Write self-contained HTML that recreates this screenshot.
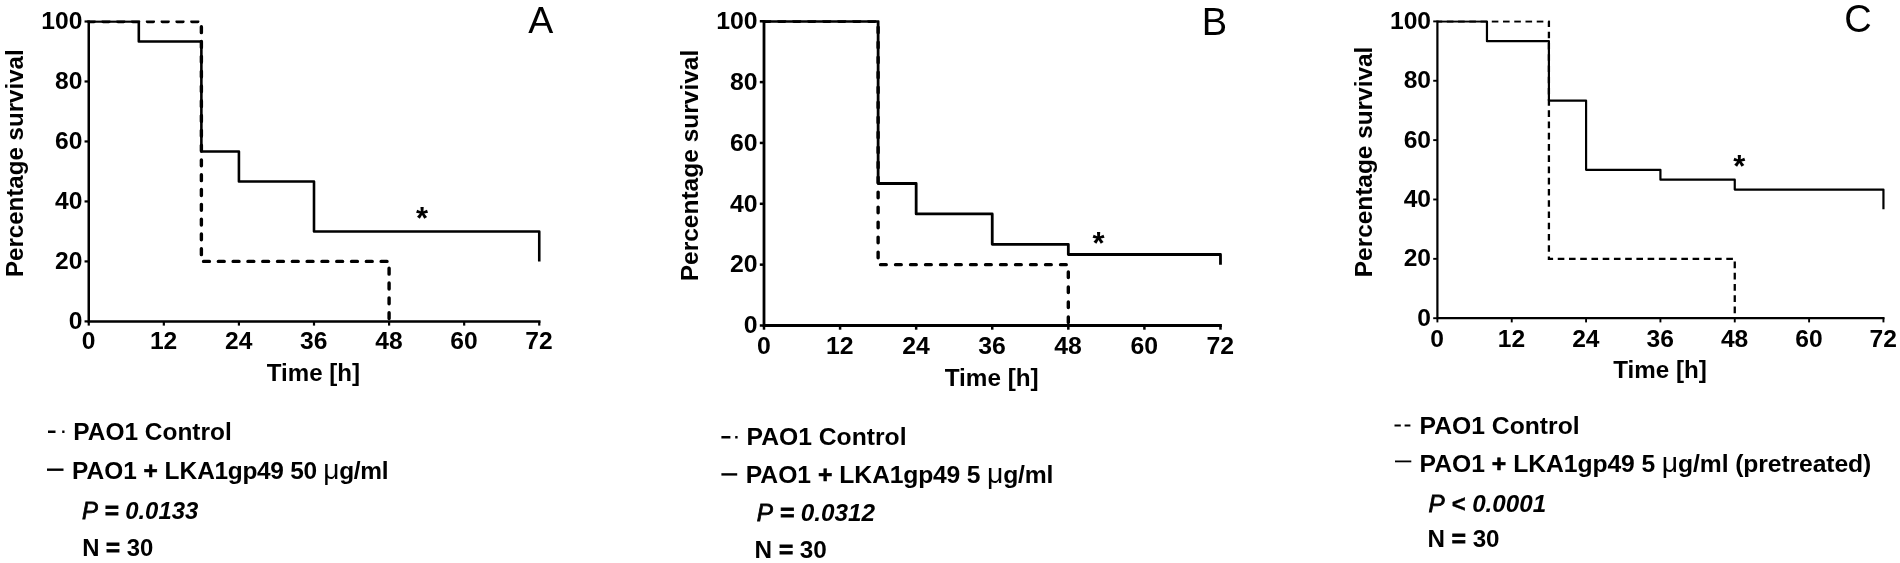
<!DOCTYPE html>
<html lang="en">
<head>
<meta charset="utf-8">
<title>Survival curves</title>
<style>
html,body{margin:0;padding:0;background:#fff;}
body{width:1900px;height:563px;overflow:hidden;}
svg{display:block;filter:blur(0.4px);}
text{font-family:"Liberation Sans", Arial, Helvetica, sans-serif;fill:#000;}
.b{font-weight:bold;}
.bi{font-weight:bold;font-style:italic;}
.i{font-weight:normal;font-style:italic;}
.ln{fill:none;stroke:#000;stroke-linejoin:miter;stroke-linecap:butt;}
.cv{stroke-linejoin:round;}
</style>
</head>
<body>
<svg width="1900" height="563" viewBox="0 0 1900 563">
<rect width="1900" height="563" fill="#fff"/>
<g id="panel-A">
<clipPath id="clipA"><rect x="83.75" y="20.50" width="460.50" height="302.90"/></clipPath>
<g clip-path="url(#clipA)">
<path class="ln" style="stroke-linecap:round" stroke-width="3.4" stroke-dasharray="5.9 8.9" stroke-dashoffset="0.5" d="M88.75 21.50 L201.38 21.50 L201.38 261.42 L389.09 261.42 L389.09 321.40"/>
<path class="ln cv" stroke-width="2.6" d="M88.75 21.50 L138.81 21.50 L138.81 41.50 L201.38 41.50 L201.38 151.45 L238.92 151.45 L238.92 181.44 L314.00 181.44 L314.00 231.43 L539.25 231.43 L539.25 261.42"/>
</g>
<path class="ln" stroke-width="2.5" d="M88.75 20.50 L88.75 321.40 L540.50 321.40"/>
<line class="ln" stroke-width="2.20" x1="84.55" x2="88.75" y1="321.40" y2="321.40"/>
<text class="b" font-size="24.6" text-anchor="end" x="82.35" y="329.00">0</text>
<line class="ln" stroke-width="2.20" x1="84.55" x2="88.75" y1="261.42" y2="261.42"/>
<text class="b" font-size="24.6" text-anchor="end" x="82.35" y="269.02">20</text>
<line class="ln" stroke-width="2.20" x1="84.55" x2="88.75" y1="201.44" y2="201.44"/>
<text class="b" font-size="24.6" text-anchor="end" x="82.35" y="209.04">40</text>
<line class="ln" stroke-width="2.20" x1="84.55" x2="88.75" y1="141.46" y2="141.46"/>
<text class="b" font-size="24.6" text-anchor="end" x="82.35" y="149.06">60</text>
<line class="ln" stroke-width="2.20" x1="84.55" x2="88.75" y1="81.48" y2="81.48"/>
<text class="b" font-size="24.6" text-anchor="end" x="82.35" y="89.08">80</text>
<line class="ln" stroke-width="2.20" x1="84.55" x2="88.75" y1="21.50" y2="21.50"/>
<text class="b" font-size="24.6" text-anchor="end" x="82.35" y="29.10">100</text>
<line class="ln" stroke-width="2.20" x1="88.75" x2="88.75" y1="321.40" y2="325.60"/>
<text class="b" font-size="24.6" text-anchor="middle" x="88.55" y="349.30">0</text>
<line class="ln" stroke-width="2.20" x1="163.83" x2="163.83" y1="321.40" y2="325.60"/>
<text class="b" font-size="24.6" text-anchor="middle" x="163.63" y="349.30">12</text>
<line class="ln" stroke-width="2.20" x1="238.92" x2="238.92" y1="321.40" y2="325.60"/>
<text class="b" font-size="24.6" text-anchor="middle" x="238.72" y="349.30">24</text>
<line class="ln" stroke-width="2.20" x1="314.00" x2="314.00" y1="321.40" y2="325.60"/>
<text class="b" font-size="24.6" text-anchor="middle" x="313.80" y="349.30">36</text>
<line class="ln" stroke-width="2.20" x1="389.09" x2="389.09" y1="321.40" y2="325.60"/>
<text class="b" font-size="24.6" text-anchor="middle" x="388.89" y="349.30">48</text>
<line class="ln" stroke-width="2.20" x1="464.17" x2="464.17" y1="321.40" y2="325.60"/>
<text class="b" font-size="24.6" text-anchor="middle" x="463.97" y="349.30">60</text>
<line class="ln" stroke-width="2.20" x1="539.25" x2="539.25" y1="321.40" y2="325.60"/>
<text class="b" font-size="24.6" text-anchor="middle" x="539.05" y="349.30">72</text>
<text class="b" font-size="24.1" text-anchor="middle" x="313.4" y="380.5">Time [h]</text>
<text class="b" font-size="24.1" text-anchor="middle" transform="translate(22.6 163.2) rotate(-90)">Percentage survival</text>
<text font-size="37.5" text-anchor="middle" x="540.8" y="33.0">A</text>
<text class="b" font-size="31" text-anchor="middle" x="422" y="228.7">*</text>
<path class="ln" stroke-width="2.6" d="M48 431.7 L55.5 431.7 M62.2 431.7 L64.5 431.7"/>
<path class="ln" stroke-width="2.4" d="M47 469.7 L63.5 469.7"/>
<text class="b" font-size="24.45" x="73.3" y="440.0">PAO1 Control</text>
<text class="b" font-size="24.45" x="72.0" y="478.8" xml:space="preserve">PAO1 <tspan stroke="#000" stroke-width="0.6">+</tspan> LK<tspan letter-spacing="-0.3">A1gp49 50 <tspan font-weight="normal" font-size="28.12">μ</tspan>g/ml</tspan></text>
<text class="bi" font-size="23.9" x="82.0" y="518.8" xml:space="preserve"><tspan class="i" stroke="#000" stroke-width="0.8">P</tspan> <tspan stroke="#000" stroke-width="0.9">=</tspan> 0.0133</text>
<text class="b" font-size="23.9" x="82.2" y="556.1">N <tspan stroke="#000" stroke-width="0.9">=</tspan> 30</text>
</g>
<g id="panel-B">
<clipPath id="clipB"><rect x="759.00" y="20.25" width="466.48" height="307.25"/></clipPath>
<g clip-path="url(#clipB)">
<path class="ln" style="stroke-linecap:round" stroke-width="3.4" stroke-dasharray="5.7 9.3" stroke-dashoffset="0.05" d="M764.00 21.25 L878.12 21.25 L878.12 264.65 L1068.32 264.65 L1068.32 325.50"/>
<path class="ln cv" stroke-width="2.8" d="M764.00 21.25 L878.12 21.25 L878.12 183.51 L916.16 183.51 L916.16 213.93 L992.24 213.93 L992.24 244.36 L1068.32 244.36 L1068.32 254.52 L1220.48 254.52 L1220.48 264.65"/>
</g>
<path class="ln" stroke-width="2.8" d="M764.00 20.25 L764.00 325.50 L1221.88 325.50"/>
<line class="ln" stroke-width="2.50" x1="759.80" x2="764.00" y1="325.50" y2="325.50"/>
<text class="b" font-size="24.8" text-anchor="end" x="757.60" y="333.30">0</text>
<line class="ln" stroke-width="2.50" x1="759.80" x2="764.00" y1="264.65" y2="264.65"/>
<text class="b" font-size="24.8" text-anchor="end" x="757.60" y="272.45">20</text>
<line class="ln" stroke-width="2.50" x1="759.80" x2="764.00" y1="203.80" y2="203.80"/>
<text class="b" font-size="24.8" text-anchor="end" x="757.60" y="211.60">40</text>
<line class="ln" stroke-width="2.50" x1="759.80" x2="764.00" y1="142.95" y2="142.95"/>
<text class="b" font-size="24.8" text-anchor="end" x="757.60" y="150.75">60</text>
<line class="ln" stroke-width="2.50" x1="759.80" x2="764.00" y1="82.10" y2="82.10"/>
<text class="b" font-size="24.8" text-anchor="end" x="757.60" y="89.90">80</text>
<line class="ln" stroke-width="2.50" x1="759.80" x2="764.00" y1="21.25" y2="21.25"/>
<text class="b" font-size="24.8" text-anchor="end" x="757.60" y="29.05">100</text>
<line class="ln" stroke-width="2.50" x1="764.00" x2="764.00" y1="325.50" y2="329.70"/>
<text class="b" font-size="24.8" text-anchor="middle" x="763.80" y="353.90">0</text>
<line class="ln" stroke-width="2.50" x1="840.08" x2="840.08" y1="325.50" y2="329.70"/>
<text class="b" font-size="24.8" text-anchor="middle" x="839.88" y="353.90">12</text>
<line class="ln" stroke-width="2.50" x1="916.16" x2="916.16" y1="325.50" y2="329.70"/>
<text class="b" font-size="24.8" text-anchor="middle" x="915.96" y="353.90">24</text>
<line class="ln" stroke-width="2.50" x1="992.24" x2="992.24" y1="325.50" y2="329.70"/>
<text class="b" font-size="24.8" text-anchor="middle" x="992.04" y="353.90">36</text>
<line class="ln" stroke-width="2.50" x1="1068.32" x2="1068.32" y1="325.50" y2="329.70"/>
<text class="b" font-size="24.8" text-anchor="middle" x="1068.12" y="353.90">48</text>
<line class="ln" stroke-width="2.50" x1="1144.40" x2="1144.40" y1="325.50" y2="329.70"/>
<text class="b" font-size="24.8" text-anchor="middle" x="1144.20" y="353.90">60</text>
<line class="ln" stroke-width="2.50" x1="1220.48" x2="1220.48" y1="325.50" y2="329.70"/>
<text class="b" font-size="24.8" text-anchor="middle" x="1220.28" y="353.90">72</text>
<text class="b" font-size="24.3" text-anchor="middle" x="991.7" y="385.8">Time [h]</text>
<text class="b" font-size="24.5" text-anchor="middle" transform="translate(697.9 165.5) rotate(-90)">Percentage survival</text>
<text font-size="38.0" text-anchor="middle" x="1214.5" y="35.2">B</text>
<text class="b" font-size="31" text-anchor="middle" x="1098.6" y="253.5">*</text>
<path class="ln" stroke-width="2.6" d="M721.4 437.2 L730.4 437.2 M735.2 437.2 L737.6 437.2"/>
<path class="ln" stroke-width="2.4" d="M721.4 474.4 L737.2 474.4"/>
<text class="b" font-size="24.7" x="746.5" y="445.3">PAO1 Control</text>
<text class="b" font-size="24.7" x="745.7" y="483.4" xml:space="preserve">PAO1 <tspan stroke="#000" stroke-width="0.6">+</tspan> LK<tspan letter-spacing="-0.2">A1gp49 5 <tspan font-weight="normal" font-size="28.40">μ</tspan>g/ml</tspan></text>
<text class="bi" font-size="24.3" x="756.8" y="521.4" xml:space="preserve"><tspan class="i" stroke="#000" stroke-width="0.8">P</tspan> <tspan stroke="#000" stroke-width="0.9">=</tspan> 0.0312</text>
<text class="b" font-size="24.3" x="754.6" y="557.6">N <tspan stroke="#000" stroke-width="0.9">=</tspan> 30</text>
</g>
<g id="panel-C">
<clipPath id="clipC"><rect x="1432.40" y="20.40" width="456.04" height="299.80"/></clipPath>
<g clip-path="url(#clipC)">
<path class="ln" style="stroke-linecap:butt" stroke-width="2.3" stroke-dasharray="6.6 4.637" stroke-dashoffset="1.8" d="M1437.40 21.40 L1548.91 21.40 L1548.91 258.84 L1734.76 258.84 L1734.76 318.20"/>
<path class="ln cv" stroke-width="2.2" d="M1437.40 21.40 L1486.96 21.40 L1486.96 41.20 L1548.91 41.20 L1548.91 100.56 L1586.08 100.56 L1586.08 169.80 L1660.42 169.80 L1660.42 179.68 L1734.76 179.68 L1734.76 189.60 L1883.44 189.60 L1883.44 209.36"/>
</g>
<path class="ln" stroke-width="2.2" d="M1437.40 20.40 L1437.40 318.20 L1884.54 318.20"/>
<line class="ln" stroke-width="1.90" x1="1433.20" x2="1437.40" y1="318.20" y2="318.20"/>
<text class="b" font-size="24.6" text-anchor="end" x="1431.00" y="325.80">0</text>
<line class="ln" stroke-width="1.90" x1="1433.20" x2="1437.40" y1="258.84" y2="258.84"/>
<text class="b" font-size="24.6" text-anchor="end" x="1431.00" y="266.44">20</text>
<line class="ln" stroke-width="1.90" x1="1433.20" x2="1437.40" y1="199.48" y2="199.48"/>
<text class="b" font-size="24.6" text-anchor="end" x="1431.00" y="207.08">40</text>
<line class="ln" stroke-width="1.90" x1="1433.20" x2="1437.40" y1="140.12" y2="140.12"/>
<text class="b" font-size="24.6" text-anchor="end" x="1431.00" y="147.72">60</text>
<line class="ln" stroke-width="1.90" x1="1433.20" x2="1437.40" y1="80.76" y2="80.76"/>
<text class="b" font-size="24.6" text-anchor="end" x="1431.00" y="88.36">80</text>
<line class="ln" stroke-width="1.90" x1="1433.20" x2="1437.40" y1="21.40" y2="21.40"/>
<text class="b" font-size="24.6" text-anchor="end" x="1431.00" y="29.00">100</text>
<line class="ln" stroke-width="1.90" x1="1437.40" x2="1437.40" y1="318.20" y2="322.40"/>
<text class="b" font-size="24.6" text-anchor="middle" x="1437.20" y="346.90">0</text>
<line class="ln" stroke-width="1.90" x1="1511.74" x2="1511.74" y1="318.20" y2="322.40"/>
<text class="b" font-size="24.6" text-anchor="middle" x="1511.54" y="346.90">12</text>
<line class="ln" stroke-width="1.90" x1="1586.08" x2="1586.08" y1="318.20" y2="322.40"/>
<text class="b" font-size="24.6" text-anchor="middle" x="1585.88" y="346.90">24</text>
<line class="ln" stroke-width="1.90" x1="1660.42" x2="1660.42" y1="318.20" y2="322.40"/>
<text class="b" font-size="24.6" text-anchor="middle" x="1660.22" y="346.90">36</text>
<line class="ln" stroke-width="1.90" x1="1734.76" x2="1734.76" y1="318.20" y2="322.40"/>
<text class="b" font-size="24.6" text-anchor="middle" x="1734.56" y="346.90">48</text>
<line class="ln" stroke-width="1.90" x1="1809.10" x2="1809.10" y1="318.20" y2="322.40"/>
<text class="b" font-size="24.6" text-anchor="middle" x="1808.90" y="346.90">60</text>
<line class="ln" stroke-width="1.90" x1="1883.44" x2="1883.44" y1="318.20" y2="322.40"/>
<text class="b" font-size="24.6" text-anchor="middle" x="1883.24" y="346.90">72</text>
<text class="b" font-size="24.2" text-anchor="middle" x="1660.0" y="378.3">Time [h]</text>
<text class="b" font-size="24.4" text-anchor="middle" transform="translate(1372.0 161.9) rotate(-90)">Percentage survival</text>
<text font-size="38.0" text-anchor="middle" x="1858.0" y="32.0">C</text>
<text class="b" font-size="31" text-anchor="middle" x="1739.4" y="177.2">*</text>
<path class="ln" stroke-width="2.0" d="M1394.5 425.5 L1400.8 425.5 M1404.6 425.5 L1410.4 425.5"/>
<path class="ln" stroke-width="1.8" d="M1395 461.4 L1411.3 461.4"/>
<text class="b" font-size="24.7" x="1419.6" y="434.2">PAO1 Control</text>
<text class="b" font-size="24.7" x="1419.6" y="471.8" xml:space="preserve">PAO1 <tspan stroke="#000" stroke-width="0.6">+</tspan> LK<tspan letter-spacing="-0.1">A1gp49 5 <tspan font-weight="normal" font-size="28.40">μ</tspan>g/ml (pretreated)</tspan></text>
<text class="bi" font-size="24.2" x="1428.4" y="511.5" xml:space="preserve"><tspan class="i" stroke="#000" stroke-width="0.8">P</tspan> <tspan stroke="#000" stroke-width="0.3">&lt;</tspan> 0.0001</text>
<text class="b" font-size="24.2" x="1427.6" y="547.1">N <tspan stroke="#000" stroke-width="0.9">=</tspan> 30</text>
</g>
</svg>
</body>
</html>
